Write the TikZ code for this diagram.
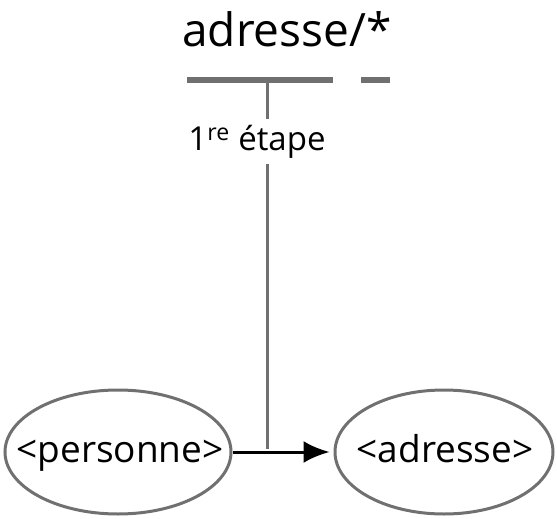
\documentclass[tikz,border=0pt]{standalone}
\usepackage{fontspec}
\setmainfont{Open Sans}
\usetikzlibrary{shapes.geometric,arrows.meta}
\definecolor{grayline}{HTML}{707070}
\begin{document}
\begin{tikzpicture}[x=1pt,y=-1pt,
  ell/.style={draw=grayline,line width=3pt,ellipse,inner sep=0pt},
  txt/.style={font=\fontsize{37}{42}\selectfont,inner sep=0pt},
  bar/.style={draw=grayline,line width=6pt},
  stem/.style={draw=grayline,line width=3pt},
  arr/.style={draw=black,line width=3pt,-{Latex[length=26pt,width=22pt]},shorten >=4pt}]
\useasboundingbox (0,0) rectangle (557,519);
\node[anchor=base,font=\fontsize{46}{52}\selectfont] (title) at (287,47) {adresse/*};
\coordinate (b1s) at (187,80);
\coordinate (b1e) at (333,80);
\coordinate (b2s) at (361,80);
\coordinate (b2e) at (390,80);
\coordinate (stemtop) at (267,80);
\coordinate (stembot) at (267,449);
\draw[bar] (b1s) -- (b1e);
\draw[bar] (b2s) -- (b2e);
\draw[stem] (stemtop) -- (stembot);
\node[anchor=base,fill=white,inner xsep=2pt,inner ysep=6pt,font=\fontsize{33}{38}\selectfont] (step1) at (257,150) {1\textsuperscript{re} étape};
\node[ell,minimum width=226pt,minimum height=124pt] (pers) at (118,452) {};
\node[ell,minimum width=218pt,minimum height=124pt] (adr) at (444,452) {};
\node[txt,anchor=base] (perstxt) at (120,462) {<personne>};
\node[txt,anchor=base] (adrtxt) at (445,462) {<adresse>};
\draw[arr] (pers.east) -- (adr.west);
\end{tikzpicture}
\end{document}
